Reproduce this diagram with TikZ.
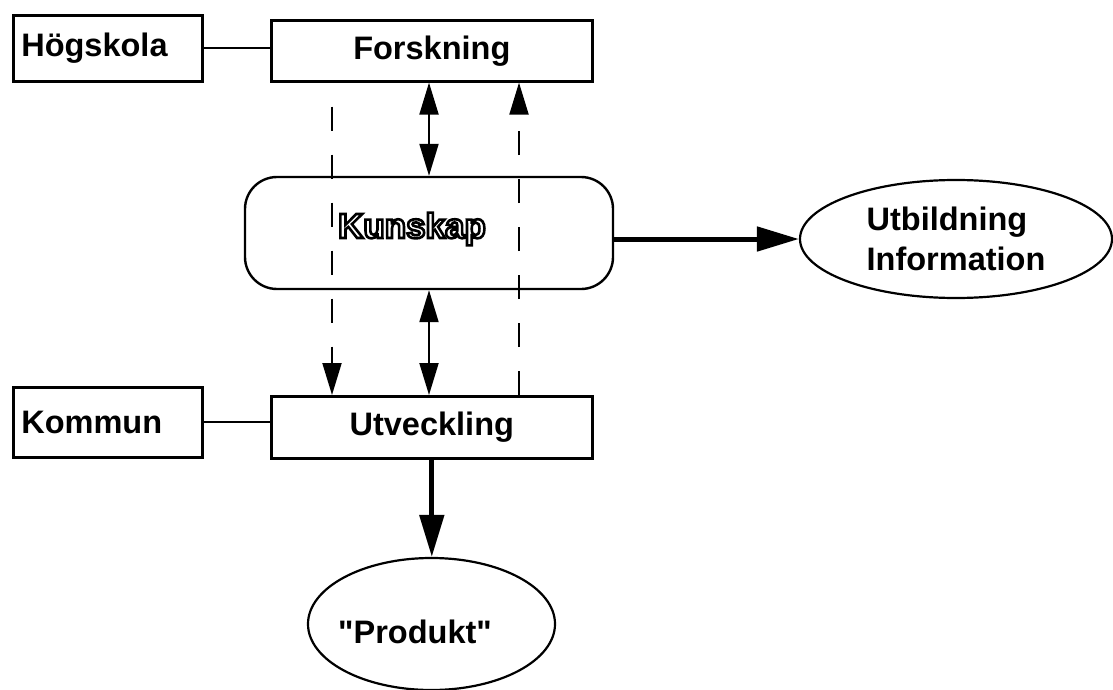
\documentclass[tikz,border=0pt]{standalone}
\usepackage{fontspec}
\setmainfont{Liberation Sans}[Ligatures=TeXOff]
\usetikzlibrary{arrows.meta,shapes.geometric}
\newcommand{\outlinetext}[1]{\special{pdf:literal direct q 2 Tr 2.6 w 0 G}#1\special{pdf:literal direct Q}}
\tikzset{
  txt/.style={font=\fontsize{32.5}{40}\selectfont\bfseries},
  box/.style={draw, line width=2.6pt, rectangle, inner sep=0pt, txt},
  sidebox/.style={box, anchor=north west, align=left, text width=173pt, inner xsep=8pt, minimum height=66pt},
  mainbox/.style={box, anchor=north west, minimum width=321pt, minimum height=61pt},
  oval/.style={draw, line width=2.2pt, ellipse, inner sep=0pt, txt},
  thin/.style={line width=2pt},
  dbl/.style={thin, {Triangle[length=32pt,width=19pt]}-{Triangle[length=32pt,width=19pt]}},
  dsh/.style={thin, dash pattern=on 24pt off 24pt, -{Triangle[length=32pt,width=19pt]}},
  thick/.style={line width=5pt, -{Triangle[length=42pt,width=24pt]}}
}
\begin{document}
\begin{tikzpicture}[x=1pt,y=-1pt]
\useasboundingbox (0,0) rectangle (1113,690);
% boxes
\node[sidebox] (hog) at (12,14) {Högskola};
\node[mainbox] (forsk) at (270,19) {Forskning};
\node[sidebox, minimum height=70pt] (kom) at (12,386) {Kommun};
\node[mainbox, minimum height=62pt] (utv) at (270,395) {Utveckling};
\node[draw, line width=2.4pt, rounded corners=32pt, minimum width=368pt, minimum height=112pt, inner sep=0pt] (kun) at (429,233) {};
\node[font=\fontsize{35}{40}\selectfont\bfseries, text=white] (kuntxt) at (412,229) {\outlinetext{Kunskap}};
\node[oval, minimum width=312pt, minimum height=118pt, align=left] (utb) at (956,239) {Utbildning\\Information};
\node[oval, minimum width=247pt, minimum height=132pt] (prod) at (431.5,624) {};
\node[txt] (prodtxt) at (415,632) {"Produkt"};
% coordinates for vertical connectors
\coordinate (xa) at (332,0);
\coordinate (xb) at (429,0);
\coordinate (xc) at (519,0);
% horizontal links
\draw[thin] (hog.east) -- (hog.east -| forsk.west);
\draw[thin] (kom.east) -- (kom.east -| utv.west);
% double arrows
\draw[dbl] (xb |- forsk.south) -- (xb |- kun.north);
\draw[dbl] (xb |- kun.south) -- (xb |- utv.north);
% dashed arrows
\draw[dsh, dash phase=24pt] (xa |- forsk.south) -- (xa |- utv.north);
\draw[dsh] (xc |- utv.north) -- (xc |- forsk.south);
% thick arrows
\draw[thick] (kun.east |- utb.west) -- (utb.west);
\draw[thick] (utv.south) -- (utv.south |- prod.north);
\end{tikzpicture}
\end{document}
